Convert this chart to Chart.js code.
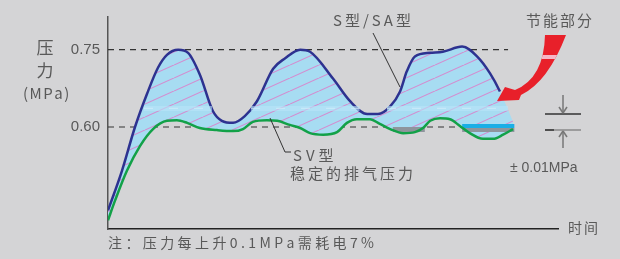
<!DOCTYPE html>
<html>
<head>
<meta charset="utf-8">
<script src="https://cdn.jsdelivr.net/npm/chart.js@4.4.1/dist/chart.umd.min.js"></script>
<style>
  html, body { margin: 0; padding: 0; background: #d4d4d6; }
  canvas { display: block; }
</style>
</head>
<body>
<canvas id="grafico" width="620" height="259"></canvas>
<script>
// time axis runs 0..100 (no units), pressure in MPa
const marcasY = [0.60, 0.75];

// S / SA type (load-unload, blue curve)
const tempoS = [0, 3.1, 6.0, 8.7, 11.1, 13.1, 15.6, 17.8, 20.4, 23.3, 25.3, 27.8, 30.4, 33.1, 36.7, 39.3, 42.7, 44.9,
  50.0, 53.8, 57.6, 60.0, 62.7, 64.9, 66.4, 68.2, 71.6, 74.4, 78.7, 82.0, 84.9, 87.1, 90.5];
const pressaoS = [0.438, 0.515, 0.600, 0.665, 0.715, 0.740, 0.750, 0.744, 0.702, 0.631, 0.612, 0.608, 0.621, 0.650, 0.713, 0.733, 0.750, 0.746,
  0.694, 0.650, 0.625, 0.625, 0.640, 0.669, 0.708, 0.737, 0.744, 0.746, 0.756, 0.737, 0.704, 0.669, 0.600];

// SV type (stable discharge pressure, green curve)
const tempoSV = [0, 1.6, 4.2, 7.1, 10.0, 13.1, 15.3, 17.6, 20.4, 24.2, 27.8, 30.0, 32.2, 35.3, 37.6, 40.4, 42.7, 44.9,
  47.8, 50.9, 53.1, 55.3, 58.2, 60.4, 62.7, 65.6, 68.2, 70.0, 71.6, 73.8, 76.0, 78.2, 80.4, 83.3, 85.6, 87.8, 90.0];
const pressaoSV = [0.419, 0.458, 0.515, 0.563, 0.596, 0.612, 0.613, 0.608, 0.598, 0.594, 0.592, 0.596, 0.610, 0.613, 0.612, 0.604, 0.598, 0.588,
  0.585, 0.590, 0.608, 0.615, 0.615, 0.606, 0.596, 0.588, 0.590, 0.598, 0.612, 0.617, 0.615, 0.602, 0.588, 0.577, 0.577, 0.585, 0.596];

// reference dashed levels
const tempoRef = [0, 88.9];

// light band crossing the saving area (gaps where the blue dips)
const tempoFaixa = [8, 23.1, 23.2, 31.8, 55.9, 56.0, 62.0, 88.9];
const pressaoFaixa = [0.636, 0.636, null, 0.636, 0.636, null, 0.636, 0.636];

// grey / cyan blocks of the ±0.01 band
const tempoCinza = [63.3, 70.4];
const tempoCiano = [78.7, 90.3];

function pontos(xs, ys) {
  return xs.map((x, i) => ({ x: x, y: ys[i] }));
}

function criarHachura() {
  const c = document.createElement('canvas');
  c.width = 29;
  c.height = 13;
  const g = c.getContext('2d');
  g.fillStyle = '#a7dcf2';
  g.fillRect(0, 0, 29, 13);
  g.strokeStyle = '#d48ccf';
  g.lineWidth = 1.1;
  for (const dx of [-29, 0, 29]) {
    g.beginPath();
    g.moveTo(dx, 13);
    g.lineTo(dx + 29, 0);
    g.stroke();
  }
  return g.createPattern(c, 'repeat');
}

function espacado(ctx, texto, x, y, esp) {
  let px = x;
  for (const ch of texto) {
    ctx.fillText(ch, px, y);
    px += ctx.measureText(ch).width + esp;
  }
}

function linha(ctx, x1, y1, x2, y2) {
  ctx.beginPath();
  ctx.moveTo(x1, y1);
  ctx.lineTo(x2, y2);
  ctx.stroke();
}

const cjk = '"Noto Sans CJK SC", sans-serif';

const anotacoes = {
  id: 'anotacoes',
  afterDraw(chart) {
    const ctx = chart.ctx;
    ctx.save();
    ctx.fillStyle = '#595959';
    ctx.textBaseline = 'middle';

    // y title
    ctx.textAlign = 'center';
    ctx.font = '17px ' + cjk;
    ctx.fillText('压', 45, 48);
    ctx.fillText('力', 45, 71);
    ctx.textAlign = 'left';
    ctx.font = '15px ' + cjk;
    espacado(ctx, '(MPa)', 23, 93, 1.5);

    // labels
    espacado(ctx, 'S型/SA型', 333, 20, 3);
    espacado(ctx, '节能部分', 526, 20, 2);
    espacado(ctx, 'SV型', 293, 155, 4);
    espacado(ctx, '稳定的排气压力', 290, 173, 3);
    ctx.font = '14px ' + cjk;
    espacado(ctx, '注：压力每上升0.1MPa需耗电7%', 108, 243, 3.4);
    espacado(ctx, '时间', 568, 228, 2);
    ctx.font = '14px "Liberation Sans"';
    ctx.fillText('± 0.01MPa', 510, 168);

    // leader lines
    ctx.strokeStyle = '#333';
    ctx.lineWidth = 1;
    linha(ctx, 373, 33, 400, 87);
    ctx.beginPath();
    ctx.moveTo(270, 118);
    ctx.lineTo(285, 152);
    ctx.lineTo(291, 152);
    ctx.stroke();

    // ±0.01 bracket
    ctx.lineWidth = 1.5;
    ctx.strokeStyle = '#333';
    linha(ctx, 545, 114, 581, 114);
    ctx.strokeStyle = '#8a8a8a';
    linha(ctx, 545, 130, 581, 130);
    ctx.strokeStyle = '#333';
    linha(ctx, 545, 130, 554, 130);
    ctx.strokeStyle = '#777';
    linha(ctx, 563, 95, 563, 113);
    linha(ctx, 559, 107, 563, 113);
    linha(ctx, 567, 107, 563, 113);
    linha(ctx, 563, 131, 563, 148);
    linha(ctx, 559, 137, 563, 131);
    linha(ctx, 567, 137, 563, 131);

    // red arrow
    const seta = new Path2D();
    seta.moveTo(545, 35);
    seta.lineTo(566, 35);
    seta.quadraticCurveTo(548, 82, 521, 95);
    seta.lineTo(519, 100);
    seta.lineTo(497, 101);
    seta.lineTo(505, 87);
    seta.lineTo(515, 90);
    seta.quadraticCurveTo(544, 78, 545, 35);
    seta.closePath();
    ctx.fillStyle = '#e8202a';
    ctx.fill(seta);
    ctx.save();
    ctx.clip(seta);
    ctx.fillStyle = '#f6b6c6';
    ctx.fillRect(530, 55, 40, 4);
    ctx.restore();

    ctx.restore();
  }
};

document.addEventListener('DOMContentLoaded', function () {
  const ctx = document.getElementById('grafico').getContext('2d');
  const azul = '#2d3290';
  const verde = '#12a148';
  const ultimo = tempoS.length - 1;

  new Chart(ctx, {
    type: 'line',
    data: {
      datasets: [
        {
          data: pontos(tempoS, pressaoS),
          borderColor: azul,
          borderWidth: 2.5,
          backgroundColor: criarHachura(),
          fill: { target: 1 },
          cubicInterpolationMode: 'monotone',
          segment: {
            borderColor: c => c.p1DataIndex === ultimo ? 'rgba(0,0,0,0)' : azul
          },
          order: 3
        },
        {
          data: pontos(tempoSV, pressaoSV),
          borderColor: verde,
          borderWidth: 2.5,
          fill: false,
          cubicInterpolationMode: 'monotone',
          order: 1
        },
        {
          data: pontos(tempoFaixa, pressaoFaixa),
          borderColor: 'rgba(185,228,248,0.6)',
          borderWidth: 5,
          spanGaps: false,
          order: 0
        },
        {
          data: pontos(tempoFaixa, pressaoFaixa),
          borderColor: 'rgba(255,255,255,0.6)',
          borderWidth: 1.2,
          borderDash: [9, 16],
          spanGaps: false,
          order: 0
        },
        {
          data: pontos(tempoCinza, [0.595, 0.595]),
          borderColor: '#8e959c',
          borderWidth: 5,
          order: 2
        },
        {
          data: pontos(tempoCiano, [0.602, 0.602]),
          borderColor: '#1aaee6',
          borderWidth: 4,
          order: 2
        },
        {
          data: pontos(tempoCiano, [0.594, 0.594]),
          borderColor: '#8e959c',
          borderWidth: 4,
          order: 2
        },
        {
          data: pontos(tempoRef, [0.75, 0.75]),
          borderColor: '#333',
          borderWidth: 1.2,
          borderDash: [6, 5],
          order: 10
        },
        {
          data: pontos(tempoRef, [0.60, 0.60]),
          borderColor: '#333',
          borderWidth: 1.2,
          borderDash: [6, 5],
          order: 10
        }
      ]
    },
    options: {
      responsive: false,
      animation: false,
      devicePixelRatio: 1,
      layout: { padding: { left: 0, right: 62, top: 15, bottom: 30 } },
      elements: { point: { radius: 0 }, line: { tension: 0 } },
      plugins: {
        legend: { display: false },
        tooltip: { enabled: false }
      },
      scales: {
        x: {
          type: 'linear',
          min: 0,
          max: 100,
          grid: { display: false, drawTicks: false },
          ticks: { display: false },
          border: { color: '#222', width: 1.5 },
          afterFit: s => { s.height = 0; }
        },
        y: {
          min: 0.402,
          max: 0.8135,
          afterBuildTicks: s => { s.ticks = marcasY.map(v => ({ value: v })); },
          ticks: {
            callback: v => v.toFixed(2),
            color: '#595959',
            font: { family: '"Liberation Sans"', size: 15 },
            padding: 8
          },
          grid: { display: false, drawTicks: false },
          border: { color: '#555', width: 1.5 },
          afterFit: s => { s.width = 108; }
        }
      }
    },
    plugins: [anotacoes]
  });
});
</script>
</body>
</html>
